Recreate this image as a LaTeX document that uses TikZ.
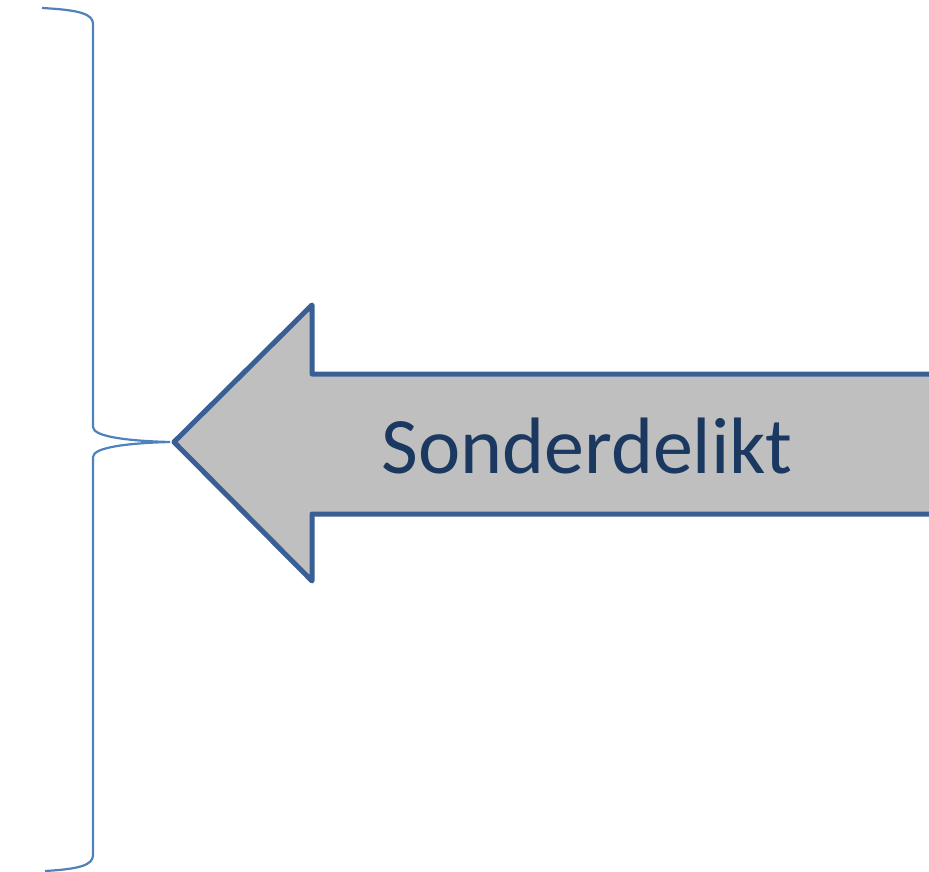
\documentclass[tikz,border=0pt]{standalone}
\usepackage{fontspec}
\setmainfont{Carlito}
\definecolor{bracecol}{RGB}{79,129,189}
\definecolor{arrowedge}{RGB}{58,95,148}
\definecolor{arrowfill}{RGB}{191,191,191}
\definecolor{textcol}{RGB}{26,56,96}
\begin{document}
\begin{tikzpicture}[x=1pt,y=-1pt,
  bracestyle/.style={draw=bracecol,line width=2.2pt},
  arrowstyle/.style={draw=arrowedge,fill=arrowfill,line width=5pt,line join=round},
  labelstyle/.style={text=textcol,font=\fontsize{80}{90}\selectfont,inner sep=0pt}]
\useasboundingbox (0,0) rectangle (929,872);
\begin{scope}
\clip (0,0) rectangle (929,872);
\draw[arrowstyle] (174,442) -- (312,305) -- (312,374) -- (945,374) -- (945,514) -- (312,514) -- (312,581) -- cycle;
\end{scope}
\coordinate (tip) at (170,442);
\draw[bracestyle] (42,8) .. controls (80,10) and (93,14) .. (93,24) -- (93,427)
  .. controls (93,437) and (130,441) .. (tip)
  .. controls (130,443) and (93,447) .. (93,457) -- (93,855)
  .. controls (93,865) and (80,869) .. (45,871);
\node[labelstyle,anchor=base] (label) at (587,473) {Sonderdelikt};
\end{tikzpicture}
\end{document}
